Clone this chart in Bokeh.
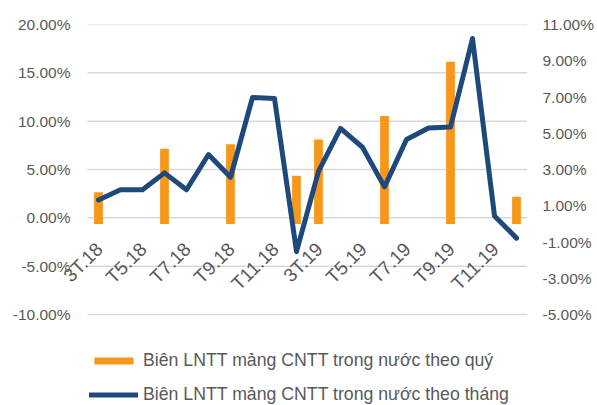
import math
from bokeh.plotting import figure
from bokeh.models import (Range1d, LinearAxis, FixedTicker, PrintfTickFormatter,
                          Legend, LegendItem)
from bokeh.core.properties import value
from bokeh.embed import file_html
from bokeh.resources import INLINE

# ---- data ----
months = ["3T.18", "T4.18", "T5.18", "T6.18", "T7.18", "T8.18", "T9.18", "T10.18",
          "T11.18", "T12.18", "3T.19", "T4.19", "T5.19", "T6.19", "T7.19", "T8.19",
          "T9.19", "T10.19", "T11.19", "T12.19"]
monthly_margin = [1.85, 2.9, 2.9, 4.65, 2.9, 6.55, 4.2, 12.45, 12.35, -3.5,
                  4.8, 9.25, 7.3, 3.2, 8.1, 9.3, 9.4, 18.55, 0.2, -2.1]
quarters = ["3T.18", "T6.18", "T9.18", "T12.18", "3T.19", "T6.19", "T9.19", "T12.19"]
quarterly_margin = [1.75, 4.15, 4.4, 2.65, 4.65, 5.95, 8.95, 1.5]
shown_labels = ["3T.18", "T5.18", "T7.18", "T9.18", "T11.18",
                "3T.19", "T5.19", "T7.19", "T9.19", "T11.19"]
left_ticks = [-10, -5, 0, 5, 10, 15, 20]
right_ticks = [-5, -3, -1, 1, 3, 5, 7, 9, 11]
series_names = ["Biên LNTT mảng CNTT trong nước theo quý",
                "Biên LNTT mảng CNTT trong nước theo tháng"]

FONT = "Liberation Sans"
GRAY = "#595959"
ORANGE = "#F7981D"
NAVY = "#1F497D"
GRID = "#d9d9d9"

n = len(months)
mx = list(range(n))
qx = [months.index(q) for q in quarters]
lx = [months.index(l) for l in shown_labels]

# layout geometry (px)
W, H = 597, 405
FRAME_L, FRAME_R, FRAME_T, FRAME_B = 55, 527, 24, 405
PLOT_L, PLOT_B = 87, 314            # category area left edge, lowest gridline
cat_px = (FRAME_R - PLOT_L) / n
x_start = -0.5 - (PLOT_L - FRAME_L) / cat_px
extra = FRAME_B - PLOT_B            # room below the lowest gridline for the legend
lpx = (PLOT_B - FRAME_T) / (left_ticks[-1] - left_ticks[0])
rpx = (PLOT_B - FRAME_T) / (right_ticks[-1] - right_ticks[0])

p = figure(width=W, height=H, x_range=Range1d(x_start, n - 0.5),
           y_range=Range1d(left_ticks[0] - extra / lpx, left_ticks[-1]),
           output_backend="svg", toolbar_location=None,
           x_axis_location=None,
           min_border_left=FRAME_L, min_border_right=W - FRAME_R,
           min_border_top=FRAME_T, min_border_bottom=0)
p.outline_line_color = None
p.background_fill_color = "white"
p.border_fill_color = "white"
for g in p.grid:
    g.visible = False

p.extra_y_ranges = {"right": Range1d(right_ticks[0] - extra / rpx, right_ticks[-1])}

# horizontal gridlines over the category area only
p.segment(x0=[-0.5] * len(left_ticks), x1=[n - 0.5] * len(left_ticks),
          y0=left_ticks, y1=left_ticks, line_color=GRID, line_width=1.5)

# left axis
yax = p.yaxis[0]
yax.ticker = FixedTicker(ticks=left_ticks)
yax.formatter = PrintfTickFormatter(format="%.2f%%")

# right axis
rax = LinearAxis(y_range_name="right", ticker=FixedTicker(ticks=right_ticks),
                 formatter=PrintfTickFormatter(format="%.2f%%"))
p.add_layout(rax, "right")

for ax in (yax, rax):
    ax.axis_line_color = None
    ax.major_tick_line_color = None
    ax.minor_tick_line_color = None
    ax.major_tick_out = 0
    ax.major_tick_in = 0
    ax.minor_tick_out = 0
    ax.minor_tick_in = 0
    ax.major_label_text_font = FONT
    ax.major_label_text_color = GRAY
    ax.major_label_text_font_size = "15.5px"
yax.major_label_standoff = (FRAME_L - 70)
rax.major_label_standoff = 15

bars = p.vbar(x=qx, top=quarterly_margin, bottom=0, width=0.4,
              y_range_name="right", fill_color=ORANGE, line_color=None)

# category labels, rotated 45 deg, hanging under the zero line
p.text(x=lx, y=[0] * len(lx), text=shown_labels, angle=math.pi / 4,
       text_align="right", text_baseline="middle", x_offset=1, y_offset=28,
       text_font=value(FONT), text_font_size="19px", text_color=GRAY)

line = p.line(x=mx, y=monthly_margin, line_width=5, line_color=NAVY,
              line_join="round", line_cap="round")

legend = Legend(items=[LegendItem(label=series_names[0], renderers=[bars]),
                       LegendItem(label=series_names[1], renderers=[line])],
                location=(PLOT_L + 2 - FRAME_L, 0), orientation="vertical",
                glyph_width=49, glyph_height=9, label_height=21, label_standoff=5,
                spacing=13, padding=0, margin=0, border_line_color=None,
                background_fill_alpha=0,
                label_text_font=FONT, label_text_font_size="17.7px",
                label_text_color=GRAY)
p.add_layout(legend)

open("out.html", "w").write(file_html(p, INLINE))
